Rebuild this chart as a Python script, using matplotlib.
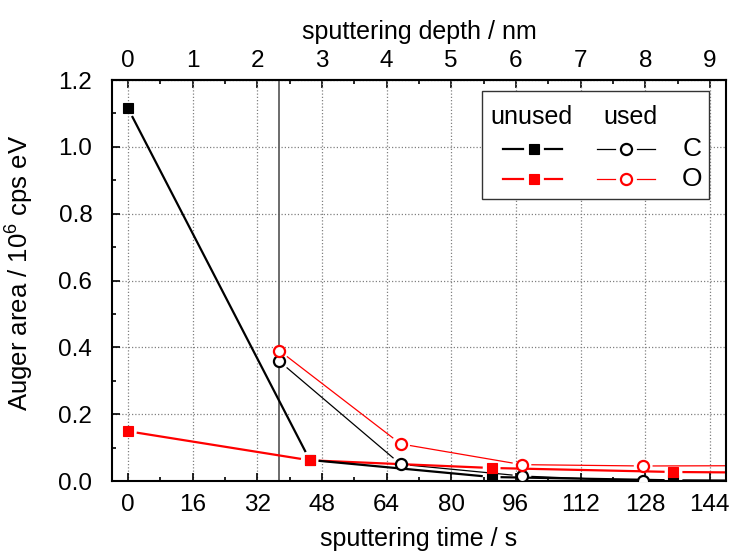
import numpy as np
import matplotlib
matplotlib.use("Agg")
import matplotlib.pyplot as plt
from matplotlib.patches import Rectangle
from matplotlib.ticker import MultipleLocator, FormatStrFormatter

# --- data -------------------------------------------------------------
# unused sample: sputtering time (s) and Auger peak areas (10^6 cps eV)
t_unused = [0, 45, 90, 135, 180]
c_unused = [1.116, 0.063, 0.012, 0.002, 0.0]
o_unused = [0.149, 0.062, 0.039, 0.027, 0.023]

# used sample: sputtering starts after the first cleaning step
t_used = [37.5, 67.5, 97.5, 127.5, 157.5]
c_used = [0.358, 0.050, 0.015, 0.0, 0.0]
o_used = [0.390, 0.111, 0.049, 0.045, 0.046]

t_start_used = 37.5          # marks the start of the used-sample profile
rate = 16.0                  # s per nm of sputtered depth

time_ticks = np.arange(0, 145, 16)
depth_ticks = np.arange(0, 10, 1)

# --- style ------------------------------------------------------------
plt.rcParams["font.family"] = ["Liberation Sans", "DejaVu Sans"]
plt.rcParams["mathtext.default"] = "regular"
FS = 17.5
LFS = 18
RED = "#ff0000"
BLK = "#000000"

fig = plt.figure(figsize=(7.35, 5.55), dpi=100)
ax = fig.add_axes([0.152, 0.1333, 0.8358, 0.7225])
ax.set_xlim(-4, 148)
ax.set_ylim(0, 1.2)

for s in ax.spines.values():
    s.set_linewidth(1.5)

ax.set_xticks(time_ticks)
ax.xaxis.set_minor_locator(MultipleLocator(8))
ax.yaxis.set_major_locator(MultipleLocator(0.2))
ax.yaxis.set_minor_locator(MultipleLocator(0.1))
ax.yaxis.set_major_formatter(FormatStrFormatter("%.1f"))
ax.tick_params(which="both", direction="in", top=False, right=False,
               labelsize=FS, width=1.2)
ax.tick_params(which="major", length=6)
ax.tick_params(which="minor", length=3)
ax.tick_params(axis="x", which="both", pad=9)
ax.tick_params(axis="y", which="both", pad=14)

ax.grid(True, which="major", color="#808080", linestyle=(0, (1, 1.6)),
        linewidth=0.9, zorder=0)
ax.set_axisbelow(True)

ax.set_xlabel("sputtering time / s", fontsize=LFS, labelpad=8)
ax.set_ylabel("Auger area / 10$^{6}$ cps eV", fontsize=18.5)
ax.yaxis.set_label_coords(-0.123, 0.52)

# top axis: sputtered depth
sec = ax.secondary_xaxis("top", functions=(lambda t: t / rate,
                                            lambda d: d * rate))
sec.set_xticks(depth_ticks)
sec.xaxis.set_minor_locator(MultipleLocator(0.5))
sec.tick_params(which="both", direction="in", labelsize=FS, width=1.2, pad=6)
sec.tick_params(which="major", length=6)
sec.tick_params(which="minor", length=3)
sec.set_xlabel("sputtering depth / nm", fontsize=LFS, labelpad=8)
sec.spines["top"].set_linewidth(1.5)

ax.axvline(t_start_used, color="#606060", linewidth=1.3, zorder=1)


def gapped_line(x, y, gap_px, **kw):
    """Join points with segments that stop short of each marker."""
    to_disp = ax.transData
    to_data = ax.transData.inverted()
    pts = to_disp.transform(np.column_stack([x, y]))
    xs, ys = [], []
    for p0, p1 in zip(pts[:-1], pts[1:]):
        d = p1 - p0
        L = np.hypot(*d)
        if L <= 2 * gap_px:
            continue
        u = d / L
        a, b = to_data.transform([p0 + u * gap_px, p1 - u * gap_px])
        xs += [a[0], b[0], np.nan]
        ys += [a[1], b[1], np.nan]
    ax.plot(xs, ys, **kw)


GAP = 10
# used sample: thin lines, open circles
gapped_line(t_used, c_used, GAP, color=BLK, lw=0.9, zorder=2)
gapped_line(t_used, o_used, GAP, color=RED, lw=0.9, zorder=2)
# unused sample: thick lines, filled squares
gapped_line(t_unused, o_unused, GAP, color=RED, lw=1.6, zorder=2)
gapped_line(t_unused, c_unused, GAP, color=BLK, lw=1.6, zorder=2)

ax.plot(t_used, c_used, "o", ms=8, mew=1.6, mfc="white", mec=BLK, zorder=3)
ax.plot(t_used, o_used, "o", ms=8, mew=1.6, mfc="white", mec=RED, zorder=3)
ax.plot(t_unused, c_unused, "s", ms=7.6, mew=0.8, mfc=BLK, mec=BLK, zorder=3)
ax.plot(t_unused, o_unused, "s", ms=7.6, mew=0.8, mfc=RED, mec=RED, zorder=3)

# --- key --------------------------------------------------------------
T = ax.transAxes
ax.add_patch(Rectangle((0.602, 0.704), 0.3695, 0.269, transform=T,
                       facecolor="white", edgecolor="#333333", lw=1.0,
                       zorder=5))
ax.text(0.684, 0.9075, "unused", transform=T, fontsize=LFS,
        ha="center", va="center", zorder=6)
ax.text(0.845, 0.9075, "used", transform=T, fontsize=LFS,
        ha="center", va="center", zorder=6)

rows = [("C", BLK, 0.829), ("O", RED, 0.7525)]
for name, col, yk in rows:
    # unused sample entry
    ax.plot([0.637, 0.6695], [yk, yk], transform=T, color=col, lw=1.6,
            zorder=6, clip_on=False)
    ax.plot([0.7045, 0.7325], [yk, yk], transform=T, color=col, lw=1.6,
            zorder=6, clip_on=False)
    ax.plot([0.687], [yk], "s", transform=T, ms=7.6, mew=0.8, mfc=col,
            mec=col, zorder=7, clip_on=False)
    # used sample entry
    ax.plot([0.7895, 0.8195], [yk, yk], transform=T, color=col, lw=0.9,
            zorder=6, clip_on=False)
    ax.plot([0.8545, 0.8844], [yk, yk], transform=T, color=col, lw=0.9,
            zorder=6, clip_on=False)
    ax.plot([0.837], [yk], "o", transform=T, ms=8, mew=1.6, mfc="white",
            mec=col, zorder=7, clip_on=False)
    ax.text(0.944, yk, name, transform=T, fontsize=LFS + 1, ha="center",
            va="center", zorder=7)

fig.savefig("out.png", dpi=100)
